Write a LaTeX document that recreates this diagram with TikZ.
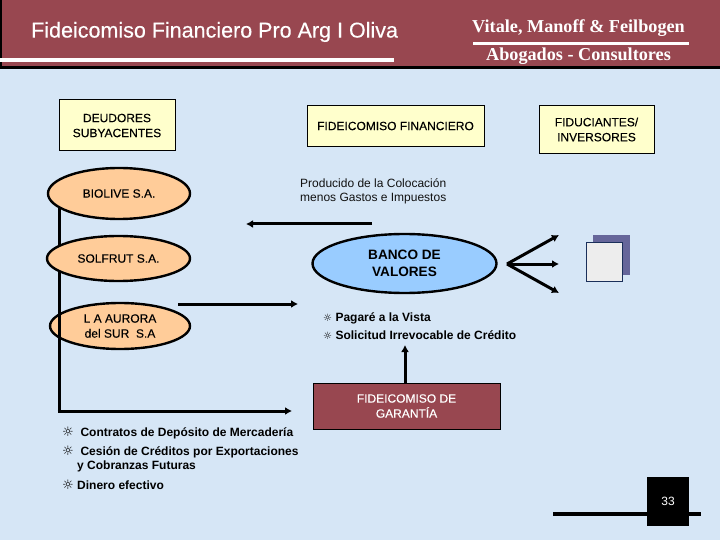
\documentclass[tikz,border=0pt]{standalone}
\usepackage{fontspec}
\setmainfont{Liberation Sans}
\newfontfamily\serifhead{Liberation Serif}
\newfontfamily\symfont{DejaVu Sans}
\newfontfamily\semibold[FakeBold=0.25]{Liberation Sans}
\usetikzlibrary{arrows.meta,shapes.geometric}
\definecolor{maroon}{HTML}{984750}
\definecolor{bgblue}{HTML}{D6E6F6}
\definecolor{paleyellow}{HTML}{FFFFCC}
\definecolor{peach}{HTML}{FFCC99}
\definecolor{skyb}{HTML}{99CCFF}
\definecolor{darkink}{HTML}{111111}
\definecolor{slatebl}{HTML}{66669A}
\definecolor{navyedge}{HTML}{1A2F5A}
\tikzset{
  lbl/.style={inner sep=0pt,align=center,text=darkink,font=\fontsize{12}{14.5}\selectfont},
  yellowbox/.style={draw=black,line width=1pt,fill=paleyellow,inner sep=0pt,align=center,text=black,font=\semibold\fontsize{12}{15}\selectfont},
  peachell/.style={ellipse,draw=black,line width=2.4pt,fill=peach,inner sep=0pt,align=center,text=black,font=\semibold\fontsize{12}{15}\selectfont},
  flow/.style={line width=3pt,draw=black,-{Latex[length=7pt,width=8pt]}},
  plainline/.style={line width=3pt,draw=black},
  headtxt/.style={inner sep=0pt,text=white},
  bul/.style={inner sep=0pt,anchor=west,text=black,font=\bfseries\fontsize{12}{15}\selectfont}
}
\newcommand{\sunb}{{\symfont\mdseries\char"263C}}
\begin{document}
\begin{tikzpicture}[x=1pt,y=-1pt]
\useasboundingbox (0,0) rectangle (720,540);
\fill[bgblue] (0,0) rectangle (720,540);
% header
\fill[maroon] (0,0) rectangle (720,66);
\fill[black] (0,66) rectangle (720,69);
\fill[black] (0,0) rectangle (1.5,66);
\fill[white] (0,58) rectangle (394,62);
\fill[white] (473,42) rectangle (689,45);
\node[headtxt,anchor=west,font=\semibold\fontsize{21.5}{24}\selectfont] (title) at (31,32) {Fideicomiso Financiero Pro Arg I Oliva};
\node[headtxt,font=\serifhead\bfseries\fontsize{18.2}{20}\selectfont] (firm) at (578.5,28) {Vitale, Manoff \& Feilbogen};
\node[headtxt,font=\serifhead\bfseries\fontsize{18.2}{20}\selectfont] (sub) at (578.5,56) {Abogados - Consultores};
% top boxes
\node[yellowbox,minimum width=116pt,minimum height=51pt] (deud) at (117,125.5) {DEUDORES\\SUBYACENTES};
\node[yellowbox,minimum width=177pt,minimum height=41pt] (fid) at (395.5,126) {FIDEICOMISO FINANCIERO};
\node[yellowbox,minimum width=115pt,minimum height=48pt] (fidu) at (596.5,129.5) {FIDUCIANTES/\\INVERSORES};
% left column
\node[peachell,minimum width=140pt,minimum height=46pt] (aurora) at (120,326) {L A AURORA\\del SUR\ \ S.A};
\coordinate (corner) at (59,411);
\coordinate (biofoot) at (59,200);
\coordinate (garend) at (292,411);
\draw[plainline] (biofoot) -- (corner);
\draw[flow] ([xshift=-1.5pt]corner) -- (garend);
\node[peachell,minimum width=142pt,minimum height=51pt] (biolive) at (119,193.5) {BIOLIVE S.A.};
\node[peachell,minimum width=143pt,minimum height=45pt] (solfrut) at (118.5,258.5) {SOLFRUT S.A.};
% centre
\node[lbl,anchor=north west,align=left,text=darkink] (prod) at (300,178) {Producido de la Colocación\\menos Gastos e Impuestos};
\coordinate (a1s) at (372,224);
\coordinate (a1e) at (246,224);
\draw[flow] (a1s) -- (a1e);
\node[ellipse,draw=black,line width=2.4pt,fill=skyb,inner sep=0pt,align=center,text=black,font=\bfseries\fontsize{13.6}{17}\selectfont,minimum width=184pt,minimum height=59pt] (banco) at (404.5,263.5) {BANCO DE\\VALORES};
\coordinate (a2s) at (178,304);
\coordinate (a2e) at (298,304);
\draw[flow] (a2s) -- (a2e);
\node[bul,align=left] (pag) at (323,318) {{\fontsize{10}{10}\selectfont\sunb}\ Pagaré a la Vista};
\node[bul,align=left] (sol) at (323,335) {{\fontsize{10}{10}\selectfont\sunb}\ Solicitud Irrevocable de Crédito};
\node[draw=black,line width=1pt,fill=maroon,inner sep=0pt,align=center,text=white,font=\semibold\fontsize{12}{15}\selectfont,minimum width=187pt,minimum height=46pt] (gar) at (406.5,406) {FIDEICOMISO DE\\GARANTÍA};
\coordinate (upend) at (405,345);
\draw[flow] (gar.north -| upend) -- (upend);
% fan
\coordinate (fan) at (507,264);
\coordinate (f1) at (559,235);
\coordinate (f2) at (559,264);
\coordinate (f3) at (559,293);
\draw[flow] (fan) -- (f1);
\draw[flow] (fan) -- (f2);
\draw[flow] (fan) -- (f3);
% squares
\fill[slatebl] (593,235) rectangle (630,275);
\draw[navyedge,line width=1pt,fill=black!7] (586.5,242.5) rectangle (622.5,281.5);
% bottom list
\node[bul] (c1) at (62,432.5) {{\fontsize{13}{13}\selectfont\sunb}\ \ Contratos de Depósito de Mercadería};
\node[bul] (c2) at (62,451.5) {{\fontsize{13}{13}\selectfont\sunb}\ \ Cesión de Créditos por Exportaciones};
\node[bul] (c3) at (77,466.5) {y Cobranzas Futuras};
\node[bul] (c4) at (62,484.5) {{\fontsize{13}{13}\selectfont\sunb}\ Dinero efectivo};
% page number
\coordinate (p1) at (553,514);
\coordinate (p2) at (701,514);
\draw[line width=3.5pt,black] (p1) -- (p2);
\node[fill=black,minimum width=42pt,minimum height=49pt,inner sep=0pt,text=white,font=\fontsize{12}{14}\selectfont] (page) at (668,501.5) {33};
\end{tikzpicture}
\end{document}
